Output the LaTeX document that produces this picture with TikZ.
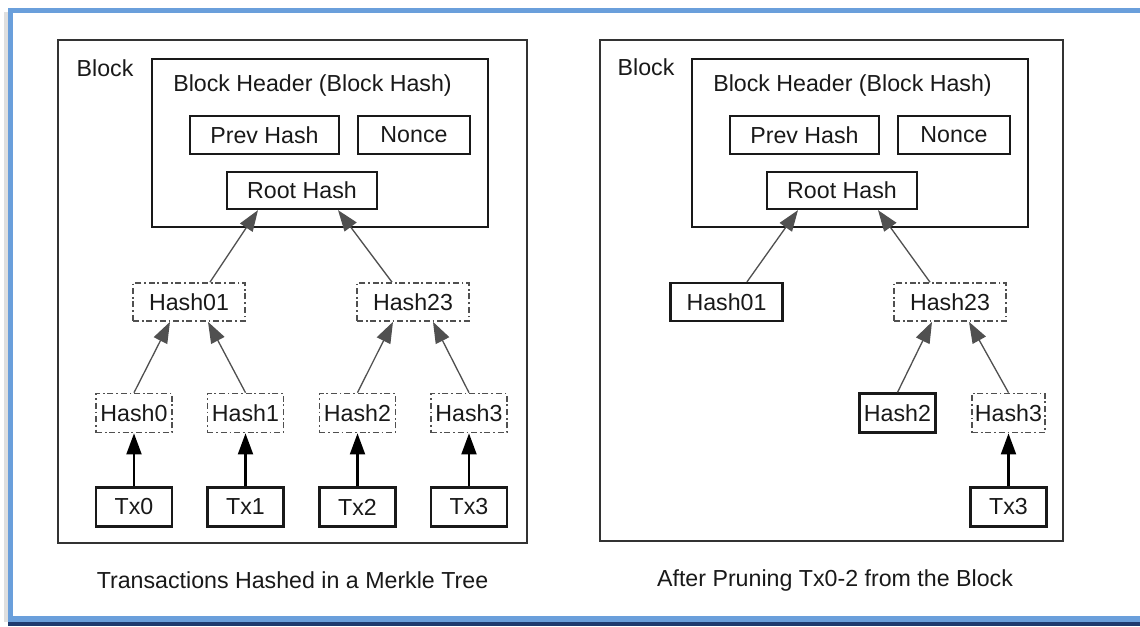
\documentclass[tikz,border=0pt]{standalone}
\usepackage{fontspec}
\setmainfont{Liberation Sans}
\usetikzlibrary{arrows.meta,calc}
\definecolor{framebl}{HTML}{6A9FDB}
\definecolor{framenavy}{HTML}{1F3A6E}
\definecolor{linegray}{HTML}{505050}
\begin{document}
\begin{tikzpicture}[x=0.02cm, y=-0.02cm, font=\fontsize{13.2}{15}\selectfont, text=black!90,
    box/.style={draw=black!90, line width=1.3pt, inner sep=0pt},
    pruned/.style={draw=linegray, line width=0.95pt, dash pattern=on 3.4pt off 1.6pt on 1pt off 1.6pt, inner sep=0pt},
    small/.style={minimum width=1.52cm, minimum height=0.78cm},
    wide/.style={minimum width=2.24cm, minimum height=0.76cm},
    up/.style={-{Triangle[length=12pt,width=8.5pt]}, draw=linegray, line width=0.75pt},
    upbold/.style={-{Triangle[length=12pt,width=8.5pt]}, draw=black, line width=1.3pt}]
        \useasboundingbox (0,0) rectangle (1140,626);
        \fill[gray!25] (4,12) rectangle (8,622);
        \draw[framebl, line width=2.9pt] (1140,10.5) -- (10.5,10.5) -- (10.5,619) -- (1140,619);
        \draw[framenavy, line width=2.3pt] (8,624) -- (1140,624);

        \node[draw=black!80, line width=1.2pt, minimum width=9.38cm, minimum height=10.06cm] (blockL) at (292.5,291.5) {};
        \node (labelL) at (105,68) {Block};
        \node[box, minimum width=6.72cm, minimum height=3.36cm] (headerL) at (320,143) {};
        \node (titleL) at (312.5,85) {Block Header (Block Hash)};
        \node[box, minimum width=2.98cm, minimum height=0.76cm] (prevL) at (264.5,135) {Prev Hash};
        \node[box, wide] (nonceL) at (414,135) {Nonce};
        \node[box, minimum width=3cm, minimum height=0.74cm] (rootL) at (302,190.5) {Root Hash};
        \node[pruned, wide] (h01L) at (189,302) {Hash01};
        \node[pruned, wide] (h23L) at (413,302) {Hash23};
        \foreach \i/\x in {0/134,1/245.5,2/357.5,3/469} {
            \node[pruned, small] (hL\i) at (\x,413) {Hash\i};
            \node[box, small] (txL\i) at (\x,507) {Tx\i};
            \draw[upbold] (txL\i) -- (hL\i);
        }
        \draw[up] (hL0.north) -- ($(h01L.south)+(-19,0)$);
        \draw[up] (hL1.north) -- ($(h01L.south)+(19,0)$);
        \draw[up] (hL2.north) -- ($(h23L.south)+(-20,0)$);
        \draw[up] (hL3.north) -- ($(h23L.south)+(20,0)$);
        \draw[up] ($(h01L.north)+(21,0)$) -- ($(rootL.south)+(-44,0)$);
        \draw[up] ($(h23L.north)+(-21,0)$) -- ($(rootL.south)+(36,0)$);
        \node (captionL) at (292.5,580) {Transactions Hashed in a Merkle Tree};

        \node[draw=black!80, line width=1.2pt, minimum width=9.26cm, minimum height=10.02cm] (blockR) at (831.5,290.5) {};
        \node (labelR) at (646,67) {Block};
        \node[box, minimum width=6.72cm, minimum height=3.36cm] (headerR) at (860,143) {};
        \node (titleR) at (852.5,85) {Block Header (Block Hash)};
        \node[box, minimum width=2.98cm, minimum height=0.76cm] (prevR) at (804.5,135) {Prev Hash};
        \node[box, wide] (nonceR) at (954,135) {Nonce};
        \node[box, minimum width=3cm, minimum height=0.74cm] (rootR) at (842,190.5) {Root Hash};
        \node[box, wide] (h01R) at (726.5,302) {Hash01};
        \node[pruned, wide] (h23R) at (950,302) {Hash23};
        \node[box, small] (hR2) at (897.5,413) {Hash2};
        \node[pruned, small, minimum width=1.46cm] (hR3) at (1008.5,413) {Hash3};
        \node[box, small] (txR3) at (1008.5,507) {Tx3};
        \draw[upbold] (txR3) -- (hR3);
        \draw[up] (hR2.north) -- ($(h23R.south)+(-18,0)$);
        \draw[up] (hR3.north) -- ($(h23R.south)+(19,0)$);
        \draw[up] ($(h01R.north)+(20.5,0)$) -- ($(rootR.south)+(-44,0)$);
        \draw[up] ($(h23R.north)+(-20,0)$) -- ($(rootR.south)+(36,0)$);
        \node (captionR) at (835,580) {After Pruning Tx0-2 from the Block};
    \end{tikzpicture}
\end{document}
